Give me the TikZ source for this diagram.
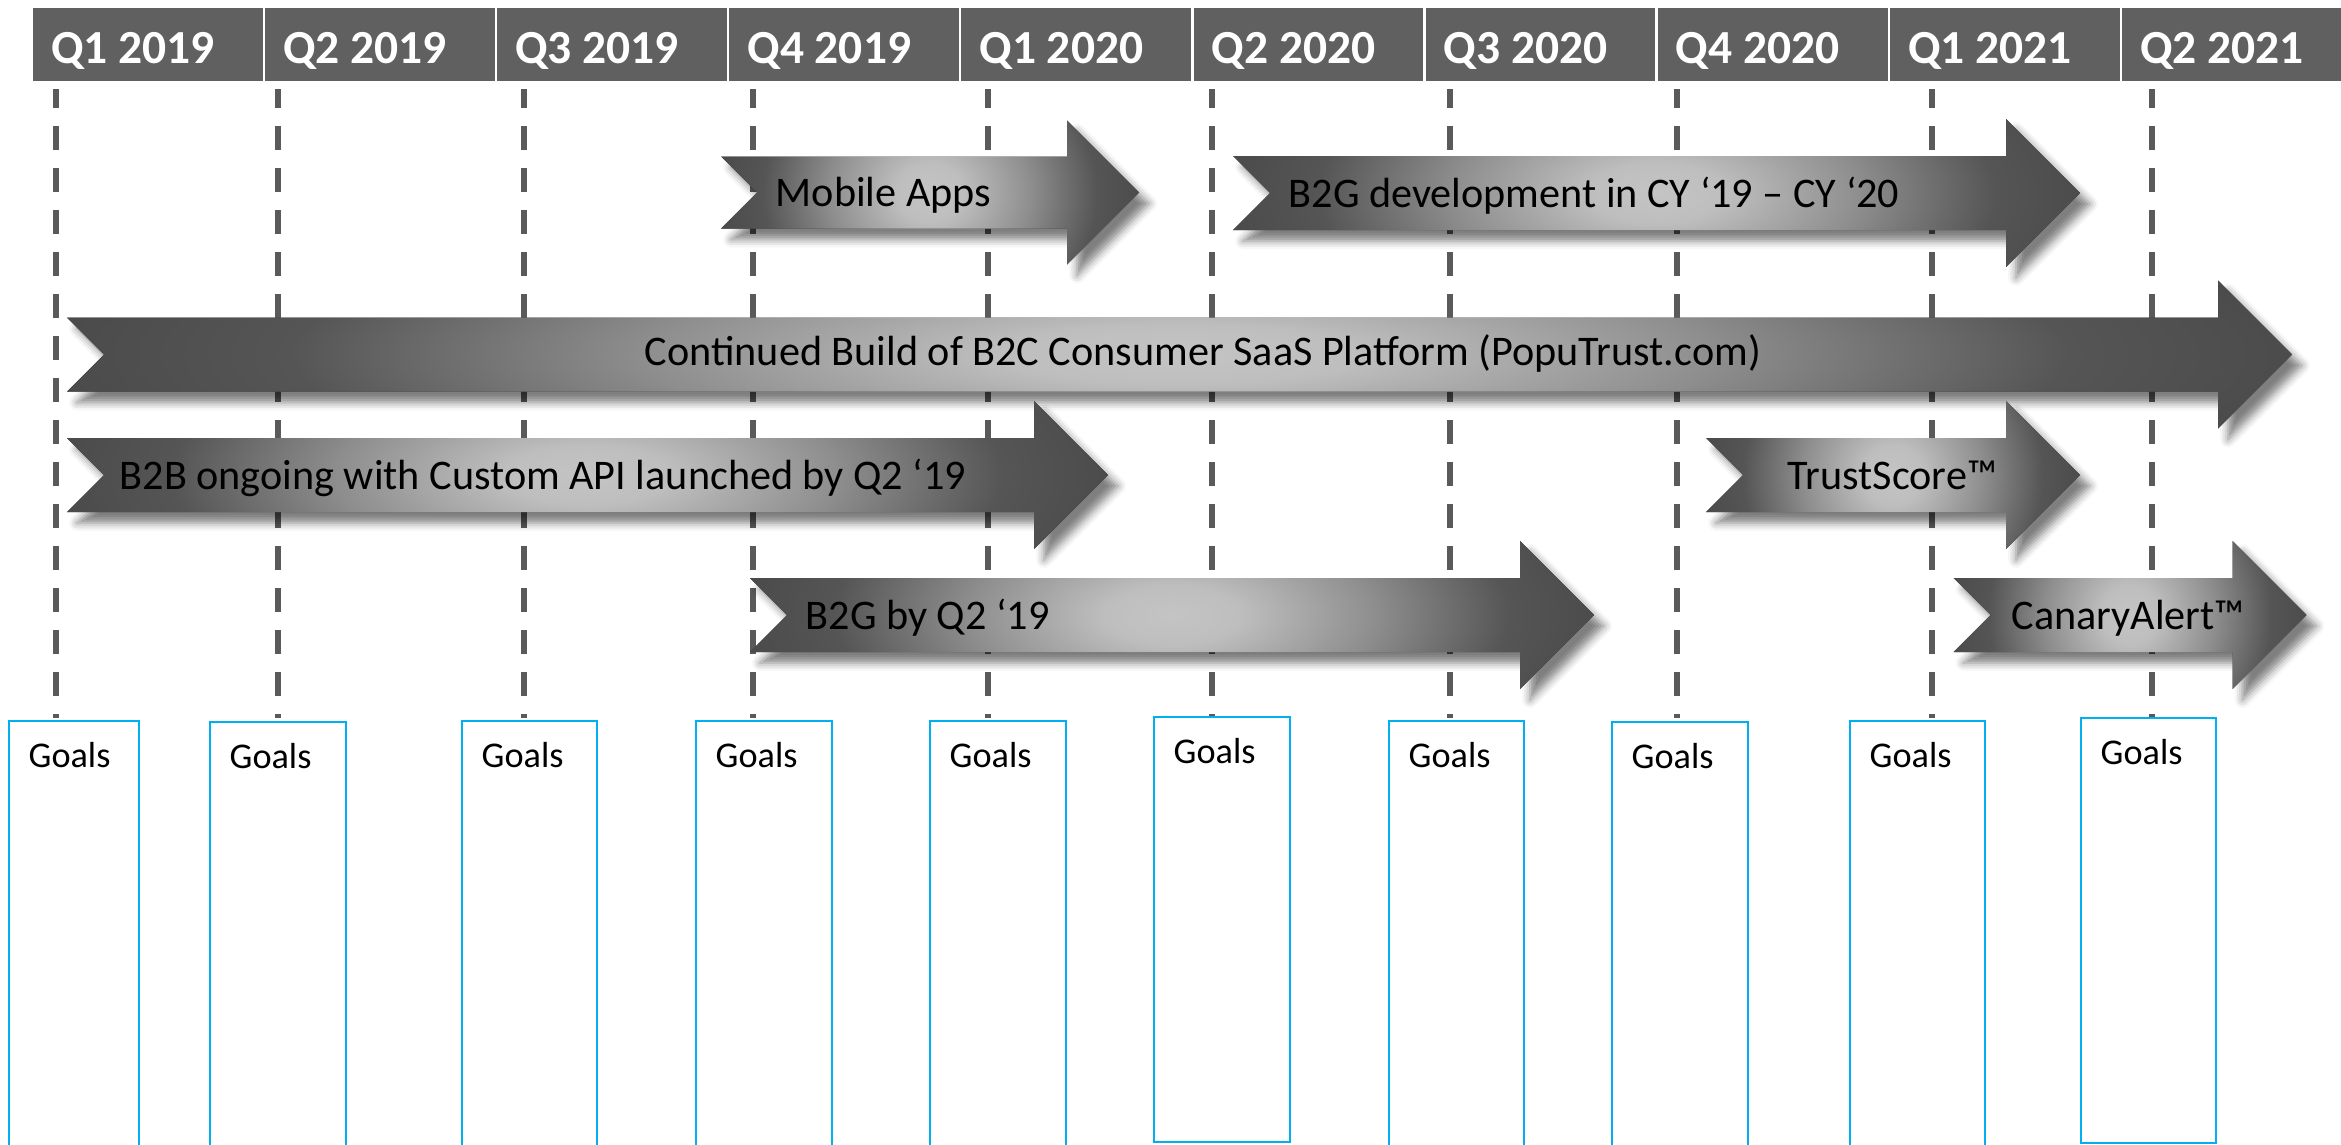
\documentclass[tikz,border=0pt]{standalone}
\usepackage{fontspec}
\setmainfont{Carlito}
\usepackage{tikz}
\usetikzlibrary{shadows.blur}
\definecolor{rmhead}{HTML}{606060}
\definecolor{rmdash}{HTML}{5A5A5A}
\definecolor{rmblue}{HTML}{00B0F0}
\definecolor{rmlight}{HTML}{C4C4C4}
\definecolor{rmpale}{HTML}{BEBEBE}
\definecolor{rmmid}{HTML}{8E8E8E}
\definecolor{rmgrey}{HTML}{555555}
\definecolor{rmdark}{HTML}{424242}
\definecolor{rmdeep}{HTML}{3A3A3A}
\pgfdeclareradialshading{rmshade}{\pgfpoint{0bp}{0bp}}{%
  color(0bp)=(rmlight); color(4bp)=(rmpale); color(12bp)=(rmmid);
  color(20bp)=(rmgrey); color(30bp)=(rmdark); color(50bp)=(rmdeep)}
\tikzset{
  qcell/.style    ={fill=rmhead, draw=none},
  qlabel/.style   ={anchor=base west, inner sep=0pt, text=white,
                    font=\fontsize{13.5}{16}\selectfont\bfseries},
  qline/.style    ={rmdash, line width=1.7pt,
                    dash pattern=on 6.83pt off 5.12pt, dash phase=1.42pt},
  goalbox/.style  ={draw=rmblue, line width=0.6pt},
  goallabel/.style={anchor=base west, inner sep=0pt,
                    font=\fontsize{10.3}{12}\selectfont},
  barlabel/.style ={anchor=base west, inner sep=0pt,
                    font=\fontsize{12}{14}\selectfont},
  barshadow/.style={blur shadow={shadow xshift=0.1cm, shadow yshift=-0.11cm,
                    shadow blur radius=0.08cm, shadow opacity=50}},
}
% notched arrow: tail x, tip x, centre y, half body height
\newcommand{\barpath}[4]{%
  (#1,#3-#4) -- (#2-2*#4,#3-#4) -- (#2-2*#4,#3-2*#4) -- (#2,#3)
  -- (#2-2*#4,#3+2*#4) -- (#2-2*#4,#3+#4) -- (#1,#3+#4)
  -- (#1+#4,#3) -- cycle}
\newcommand{\roadbar}[4]{%
  \path[barshadow, fill=rmdeep] \barpath{#1}{#2}{#3}{#4};
  \begin{scope}
    \clip \barpath{#1}{#2}{#3}{#4};
    \shade[shading=rmshade] (#1,#3-5*#4) rectangle (#2,#3+5*#4);
  \end{scope}}

\begin{document}
\begin{tikzpicture}[x=0.01cm, y=-0.01cm]
  \useasboundingbox (0,0) rectangle (2341,1145);
  % quarter header
  \foreach \q [count=\i from 0] in {Q1 2019,Q2 2019,Q3 2019,Q4 2019,Q1 2020,
                                    Q2 2020,Q3 2020,Q4 2020,Q1 2021,Q2 2021}{
    \fill[qcell] ({33+232.1*\i},8) rectangle ({262.8+232.1*\i},81);
    \node[qlabel] (q\i) at ({50.5+232.1*\i},63) {\q};
  }
  % quarter guides
  \foreach \x in {56,278,524,753,988,1212,1450,1677,1932,2152}
    \draw[qline] (\x,89) -- (\x,718);
  % goal boxes
  \foreach \l/\r/\t/\b [count=\i] in {9/139/721/1160,210/346/722/1160,
      462/597/721/1160,696/832/721/1160,930/1066/721/1160,1154/1290/717/1142,
      1389/1524/721/1160,1612/1748/722/1160,1850/1985/721/1160,2081/2216/718/1143}{
    \draw[goalbox] (\l,\t) rectangle (\r,\b);
    \node[goallabel] (g\i) at ({\l+19},{\t+46}) {Goals};
  }
  % roadmap bars
  \roadbar{721}{1139}{192.5}{36}
  \roadbar{1233}{2080}{193}{37}
  \roadbar{67}{2292}{354.5}{37}
  \roadbar{67}{1108}{475}{37}
  \roadbar{1706}{2080}{475}{37}
  \roadbar{750}{1594}{615}{37}
  \roadbar{1953.5}{2306.5}{615}{37}
  \node[barlabel] (mobile) at (775,206.5) {Mobile Apps};
  \node[barlabel] (govdev) at (1288,207) {B2G development in CY ‘19 – CY ‘20};
  \node[barlabel] (b2c) at (644,365.5)
    {Continued Build of B2C Consumer SaaS Platform (PopuTrust.com)};
  \node[barlabel] (b2b) at (119,489) {B2B ongoing with Custom API launched by Q2 ‘19};
  \node[barlabel] (trust) at (1787,489) {TrustScore™};
  \node[barlabel] (b2g) at (805,629) {B2G by Q2 ‘19};
  \node[barlabel] (canary) at (2011,629) {CanaryAlert™};
\end{tikzpicture}
\end{document}
